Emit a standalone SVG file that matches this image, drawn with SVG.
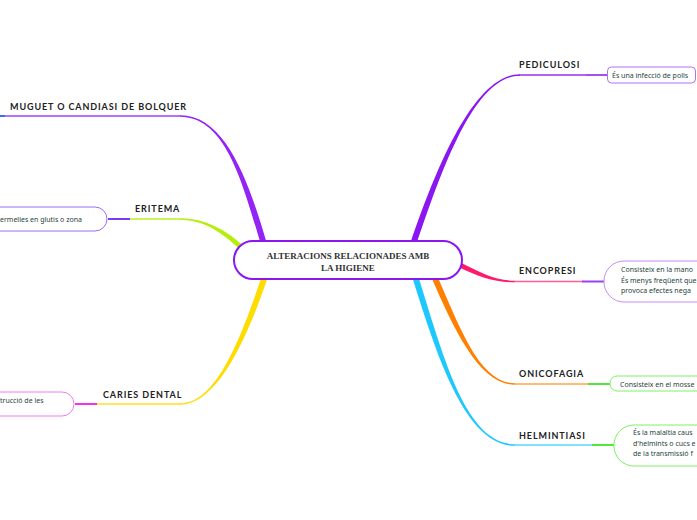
<svg xmlns="http://www.w3.org/2000/svg" width="697" height="520" viewBox="0 0 697 520">
<style>
.lbl{font-family:Lato,"Liberation Sans",sans-serif;font-weight:700;font-size:9px;letter-spacing:0.9px;fill:#222}
.sub{font-family:"Noto Sans","Liberation Sans",sans-serif;font-size:7px;fill:#27443a}
.box{fill:#fff;stroke-width:1}
.hl{fill:none;stroke-width:1.5}
.cn{fill:none;stroke-width:2}
</style>
<rect width="697" height="520" fill="#fff"/>
<g id="connectors">
  <path d="M265.9,240.2 C247.9,179.2 225,115.25 180,115.25 L180,116.75 C225,116.75 242.1,180.8 260.1,241.8 Z" fill="#9423f5"/>
  <line class="hl" x1="181" y1="116" x2="4" y2="116" stroke="#a040fa"/>
  <line class="cn" x1="0" y1="116" x2="5" y2="116" stroke="#3d6bff"/>

  <path d="M243.7,246.2 C226.7,230.2 205,218.25 180,218.25 L180,219.75 C205,219.75 223.3,233.8 240.3,249.8 Z" fill="#b4ee0a"/>
  <line class="hl" x1="181" y1="219" x2="129" y2="219" stroke="#b8f020"/>
  <line class="cn" x1="108" y1="219" x2="130" y2="219" stroke="#7a3cf0"/>

  <path d="M262.15,275.05 C239.15,344.05 215,403.25 180,403.25 L180,404.75 C215,404.75 244.85,345.95 267.85,276.95 Z" fill="#ffdc00"/>
  <line class="hl" x1="181" y1="404" x2="96" y2="404" stroke="#ffe020"/>
  <line class="cn" x1="75" y1="404" x2="97" y2="404" stroke="#ee33ee"/>

  <path d="M415.84,245.96 C442.84,165.96 475,75.75 520,75.75 L520,74.25 C475,74.25 437.16,164.04 410.16,244.04 Z" fill="#8a17f0"/>
  <line class="hl" x1="519" y1="75" x2="587" y2="75" stroke="#9a30f5"/>
  <line class="cn" x1="586" y1="75" x2="608" y2="75" stroke="#a050f5"/>

  <path d="M456.88,266.24 C478.88,277.24 495,282.25 515,282.25 L515,280.75 C495,280.75 481.12,272.76 459.12,261.76 Z" fill="#ff1a6e"/>
  <line class="hl" x1="514" y1="281.5" x2="583" y2="281.5" stroke="#ff5c9a"/>
  <line class="cn" x1="582" y1="281.5" x2="604" y2="281.5" stroke="#9a40f5"/>

  <path d="M431.17,277 C455.17,332 480,384.75 515,384.75 L515,383.25 C480,383.25 460.83,330 436.83,275 Z" fill="#ff8000"/>
  <line class="hl" x1="514" y1="384" x2="589" y2="384" stroke="#ffa64d"/>
  <line class="cn" x1="588" y1="384" x2="610" y2="384" stroke="#55e63c"/>

  <path d="M412.08,276.7 C437.08,355.7 465,445.75 515,445.75 L515,444.25 C465,444.25 442.92,354.3 417.92,275.3 Z" fill="#1ec8ff"/>
  <line class="hl" x1="514" y1="445" x2="593" y2="445" stroke="#55d6ff"/>
  <line class="cn" x1="592" y1="445" x2="614" y2="445" stroke="#55e63c"/>
</g>

<g id="center">
  <rect x="234" y="241" width="228" height="38" rx="19" fill="#fff" stroke="#8a17f0" stroke-width="2"/>
  <text x="348" y="258.5" text-anchor="middle" font-family="'Liberation Serif',serif" font-weight="700" font-size="9" fill="#333">ALTERACIONS RELACIONADES AMB</text>
  <text x="348" y="270.5" text-anchor="middle" font-family="'Liberation Serif',serif" font-weight="700" font-size="9" fill="#333">LA HIGIENE</text>
</g>

<g id="muguet">
  <text class="lbl" x="10" y="109.5">MUGUET O CANDIASI DE BOLQUER</text>
</g>

<g id="eritema">
  <text class="lbl" x="135" y="212">ERITEMA</text>
</g>
<g id="eritema-sub">
  <rect class="box" x="-20" y="207" width="127" height="24" rx="12" stroke="#9a6cf5"/>
  <text class="sub" x="0" y="221.5">ermelles en glutis o zona</text>
</g>

<g id="caries">
  <text class="lbl" x="103" y="398">CARIES DENTAL</text>
</g>
<g id="caries-sub">
  <rect class="box" x="-20" y="392" width="94" height="24" rx="12" stroke="#f07cf0"/>
  <text class="sub" x="0" y="402.5">trucció de les</text>
</g>

<g id="pediculosi">
  <text class="lbl" x="519" y="67.5">PEDICULOSI</text>
</g>
<g id="pediculosi-sub">
  <rect class="box" x="607.5" y="67" width="88" height="16" rx="4" stroke="#b070f0"/>
  <text class="sub" x="612" y="77.5">És una infecció de polls</text>
</g>

<g id="encopresi">
  <text class="lbl" x="519" y="274">ENCOPRESI</text>
</g>
<g id="encopresi-sub">
  <rect class="box" x="604" y="261" width="120" height="41" rx="20" stroke="#c88cf5"/>
  <text class="sub" x="621" y="272">Consisteix en la mano</text>
  <text class="sub" x="621" y="282.5">És menys freqüent que</text>
  <text class="sub" x="621" y="293">provoca efectes  nega</text>
</g>

<g id="onicofagia">
  <text class="lbl" x="519" y="377">ONICOFAGIA</text>
</g>
<g id="onicofagia-sub">
  <rect class="box" x="610" y="376" width="110" height="15" rx="7" stroke="#80ee66"/>
  <text class="sub" x="620" y="386.5">Consisteix en el mosse</text>
</g>

<g id="helmintiasi">
  <text class="lbl" x="519" y="438.5">HELMINTIASI</text>
</g>
<g id="helmintiasi-sub">
  <rect class="box" x="614" y="425" width="110" height="41" rx="20" stroke="#80ee66"/>
  <text class="sub" x="633" y="435">És la malaltia caus</text>
  <text class="sub" x="633" y="445.5">d'helmints o cucs e</text>
  <text class="sub" x="633" y="456">de la transmissió f</text>
</g>
</svg>
